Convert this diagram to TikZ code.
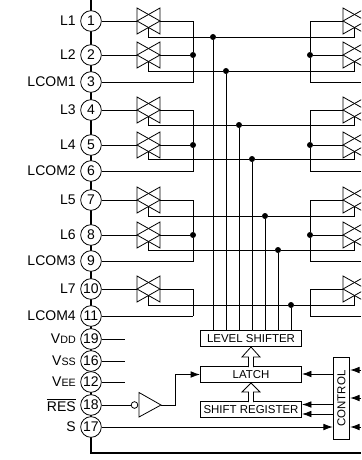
\documentclass[tikz,border=0pt]{standalone}
\usepackage{fontspec}
\setmainfont{Liberation Sans}
\usetikzlibrary{arrows.meta, positioning}
\tikzset{
  tgate/.pic={
    \draw[wire] (-11.5,-13) -- (-11.5,13) -- (11.5,0) -- cycle;
    \draw[wire] (11.5,-13) -- (11.5,13) -- (-11.5,0) -- cycle;
    \coordinate (-in) at (-11.5,0);
    \coordinate (-out) at (11.5,0);
    \coordinate (-gate) at (0,6.5);
  },
  wire/.style={line width=0.6pt, line join=miter},
}
\begin{document}
\begin{tikzpicture}[
  x=0.75pt, y=-0.75pt,
  pin/.style={circle, draw, line width=0.6pt, fill=white, minimum size=15.5pt,
              inner sep=0pt, font=\fontsize{10.5}{12}\selectfont},
  pinlbl/.style={anchor=east, inner sep=0pt, font=\fontsize{10.5}{12}\selectfont},
  blk/.style={draw, line width=0.6pt, fill=white, minimum width=76pt, minimum height=11.5pt,
              inner sep=0pt, font=\fontsize{8.6}{10}\selectfont},
  dot/.style={circle, fill=black, minimum size=4.5pt, inner sep=0pt},
  fwd/.style={wire, -{Latex[length=7pt, width=5pt]}},
  hollow/.style={draw, line width=0.6pt, fill=white},
]
\useasboundingbox (0,0) rectangle (361,460);
\clip (0,0) rectangle (361,460);

% --- chip outline ---
\coordinate (top) at (91,0);
\coordinate (corner) at (91,453);
\coordinate (edge) at (361,453);
\draw[line width=1pt] (top) -- (corner) -- (edge);

% --- pins ---
\node[pin] (p1)  at (91,21)    {1};  \node[pinlbl] at (76,21)    {L1};
\node[pin] (p2)  at (91,55)    {2};  \node[pinlbl] at (76,55)    {L2};
\node[pin] (p3)  at (91,82)    {3};  \node[pinlbl] at (76,82)    {LCOM1};
\node[pin] (p4)  at (91,110)   {4};  \node[pinlbl] at (76,110)   {L3};
\node[pin] (p5)  at (91,145)   {5};  \node[pinlbl] at (76,145)   {L4};
\node[pin] (p6)  at (91,171)   {6};  \node[pinlbl] at (76,171)   {LCOM2};
\node[pin] (p7)  at (91,200)   {7};  \node[pinlbl] at (76,200)   {L5};
\node[pin] (p8)  at (91,235)   {8};  \node[pinlbl] at (76,235)   {L6};
\node[pin] (p9)  at (91,261)   {9};  \node[pinlbl] at (76,261)   {LCOM3};
\node[pin] (p10) at (91,289)   {10}; \node[pinlbl] at (76,289)   {L7};
\node[pin] (p11) at (91,316)   {11}; \node[pinlbl] at (76,316)   {LCOM4};
\node[pin] (p19) at (91,339)   {19}; \node[pinlbl] at (76,339)   {V{\fontsize{8}{10}\selectfont DD}};
\node[pin] (p16) at (91,361)   {16}; \node[pinlbl] at (76,361)   {V{\fontsize{8}{10}\selectfont SS}};
\node[pin] (p12) at (91,382)   {12}; \node[pinlbl] at (76,382)   {V{\fontsize{8}{10}\selectfont EE}};
\node[pin] (p18) at (91,405)   {18}; \node[pinlbl] at (76,405)   {$\overline{\mbox{RES}}$};
\node[pin] (p17) at (91,427)   {17}; \node[pinlbl] at (76,427)   {S};

% --- transmission gates, left column ---
\pic (gl1) at (148.5,21)  {tgate};
\pic (gl2) at (148.5,55)  {tgate};
\pic (gl3) at (148.5,110) {tgate};
\pic (gl4) at (148.5,145) {tgate};
\pic (gl5) at (148.5,200) {tgate};
\pic (gl6) at (148.5,235) {tgate};
\pic (gl7) at (148.5,289) {tgate};

% --- transmission gates, right column ---
\pic (gr1) at (354.5,21)  {tgate};
\pic (gr2) at (354.5,55)  {tgate};
\pic (gr3) at (354.5,110) {tgate};
\pic (gr4) at (354.5,145) {tgate};
\pic (gr5) at (354.5,200) {tgate};
\pic (gr6) at (354.5,235) {tgate};
\pic (gr7) at (354.5,289) {tgate};

% --- blocks ---
\node[blk] (shifter) at (251,338.5) {LEVEL SHIFTER};
\node[blk] (latch)   at (251,374.5) {LATCH};
\node[blk] (shiftreg) at (251,409.5) {SHIFT REGISTER};
\node[draw, line width=0.6pt, minimum width=12.5pt, minimum height=62pt, inner sep=0pt] (control) at (341.5,398.5) {};
\node[rotate=90, font=\fontsize{8.6}{10}\selectfont] (ctltxt) at (control.center) {CONTROL};

% --- common nets, left and right of the shifter ---
\node[dot] (jl1) at (193,55)  {}; \node[dot] (jr1) at (310,55)  {};
\node[dot] (jl2) at (193,145) {}; \node[dot] (jr2) at (310,145) {};
\node[dot] (jl3) at (193,235) {}; \node[dot] (jr3) at (310,235) {};

\draw[wire] (p1) -- (gl1-in); \draw[wire] (p2) -- (gl2-in);
\draw[wire] (p4) -- (gl3-in); \draw[wire] (p5) -- (gl4-in);
\draw[wire] (p7) -- (gl5-in); \draw[wire] (p8) -- (gl6-in);
\draw[wire] (p10) -- (gl7-in);

\draw[wire] (gl1-out) -| (jl1) (gl2-out) -- (jl1) (p3) -| (jl1);
\draw[wire] (gl3-out) -| (jl2) (gl4-out) -- (jl2) (p6) -| (jl2);
\draw[wire] (gl5-out) -| (jl3) (gl6-out) -- (jl3) (p9) -| (jl3);
\draw[wire] (gl7-out) -| (193,316) (p11) -- (193,316);

\draw[wire] (gr1-in) -| (jr1) (gr2-in) -- (jr1) (jr1) |- (361,82);
\draw[wire] (gr3-in) -| (jr2) (gr4-in) -- (jr2) (jr2) |- (361,171);
\draw[wire] (gr5-in) -| (jr3) (gr6-in) -- (jr3) (jr3) |- (361,261);
\draw[wire] (gr7-in) -| (310,316) -- (361,316);

% --- gate lines down to the level shifter ---
\node[dot] (c1) at (213,37)  {};
\node[dot] (c2) at (226,71)  {};
\node[dot] (c3) at (239,125) {};
\node[dot] (c4) at (252,159) {};
\node[dot] (c5) at (265,216) {};
\node[dot] (c6) at (278,250) {};
\node[dot] (c7) at (291,305) {};

\draw[wire] (gl1-gate) |- (c1) -- (c1 -| gr1-gate) -- (gr1-gate);
\draw[wire] (gl2-gate) |- (c2) -- (c2 -| gr2-gate) -- (gr2-gate);
\draw[wire] (gl3-gate) |- (c3) -- (c3 -| gr3-gate) -- (gr3-gate);
\draw[wire] (gl4-gate) |- (c4) -- (c4 -| gr4-gate) -- (gr4-gate);
\draw[wire] (gl5-gate) |- (c5) -- (c5 -| gr5-gate) -- (gr5-gate);
\draw[wire] (gl6-gate) |- (c6) -- (c6 -| gr6-gate) -- (gr6-gate);
\draw[wire] (gl7-gate) |- (c7) -- (c7 -| gr7-gate) -- (gr7-gate);

\draw[wire] (c1) -- (c1 |- shifter.north);
\draw[wire] (c2) -- (c2 |- shifter.north);
\draw[wire] (c3) -- (c3 |- shifter.north);
\draw[wire] (c4) -- (c4 |- shifter.north);
\draw[wire] (c5) -- (c5 |- shifter.north);
\draw[wire] (c6) -- (c6 |- shifter.north);
\draw[wire] (c7) -- (c7 |- shifter.north);

% --- supplies ---
\coordinate (vdd) at (125,339);
\coordinate (vss) at (125,361);
\coordinate (vee) at (125,382);
\draw[wire] (p19) -- (vdd);
\draw[wire] (p16) -- (vss);
\draw[wire] (p12) -- (vee);

% --- reset inverter ---
\node[circle, draw, line width=0.6pt, minimum size=5pt, inner sep=0pt] (bubble) at (134.5,405) {};
\coordinate (invtop) at (139,392.5);
\coordinate (invbot) at (139,417);
\coordinate (invtip) at (161,405);
\draw[wire] (invtop) -- (invtip) -- (invbot) -- cycle;
\draw[wire] (p18) -- (bubble);
\draw[fwd] (invtip) -- (175,405) |- (latch.west |- 0,374.5);

% --- hollow arrows between blocks ---
\draw[hollow] (248.5,367) -- (248.5,357) -- (242,357) -- (251,347) -- (260,357) -- (253.5,357) -- (253.5,367);
\draw[hollow] (248.5,402) -- (248.5,392) -- (242,392) -- (251,383) -- (260,392) -- (253.5,392) -- (253.5,402);

% --- control lines ---
\draw[fwd] (control.west |- 0,374) -- (latch.east |- 0,374);
\draw[fwd] (control.west |- 0,404.5) -- (shiftreg.east |- 0,404.5);
\draw[fwd] (control.west |- 0,414) -- (shiftreg.east |- 0,414);
\draw[fwd] (p17) -- (control.west |- p17);
\coordinate (in1) at (361,370);
\coordinate (in2) at (361,398);
\coordinate (in3) at (361,427);
\draw[fwd] (in1) -- (control.east |- in1);
\draw[fwd] (in2) -- (control.east |- in2);
\draw[fwd] (in3) -- (control.east |- in3);
\end{tikzpicture}
\end{document}
